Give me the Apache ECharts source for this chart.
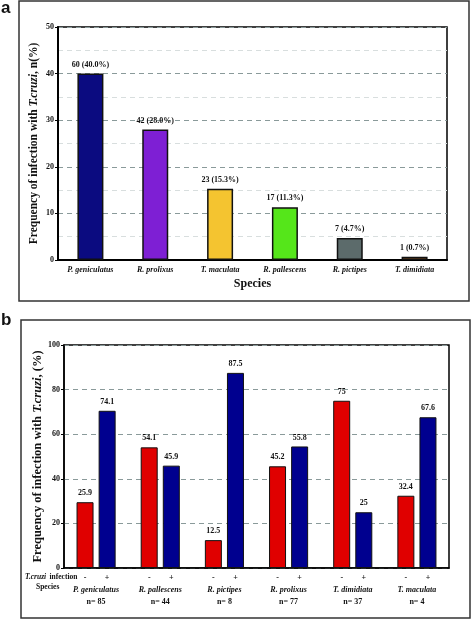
<!DOCTYPE html>
<html>
<head>
<meta charset="utf-8">
<script src="https://cdn.jsdelivr.net/npm/echarts@6/dist/echarts.min.js"></script>
<style>html,body{margin:0;padding:0;background:#fff}#c{width:472px;height:621px}</style>
</head>
<body>
<div id="c"></div>
<script>
// Panel a
const speciesA = ['P. geniculatus', 'R. prolixus', 'T. maculata', 'R. pallescens', 'R. pictipes', 'T. dimidiata'];
const valuesA = [40.0, 28.0, 15.3, 11.3, 4.7, 0.7];
const labelsA = ['60 (40.0%)', '42 (28.0%)', '23 (15.3%)', '17 (11.3%)', '7 (4.7%)', '1 (0.7%)'];
const colorsA = ['#0b0b80', '#7e1fd4', '#f4c430', '#55e61a', '#5c6b6b', '#d2782a'];
const ticksA = [0, 10, 20, 30, 40, 50];

// Panel b
const speciesB = ['P. geniculatus', 'R. pallescens', 'R. pictipes', 'R. prolixus', 'T. dimidiata', 'T. maculata'];
const nB = [85, 44, 8, 77, 37, 4];
const negB = [29.5, 54.1, 12.5, 45.6, 75.0, 32.4];
const posB = [70.5, 45.9, 87.5, 54.5, 25.0, 67.6];
const negLabelsB = ['25.9', '54.1', '12.5', '45.2', '75', '32.4'];
const posLabelsB = ['74.1', '45.9', '87.5', '55.8', '25', '67.6'];
const ticksB = [0, 20, 40, 60, 80, 100];

const SERIF = '"Liberation Serif", "DejaVu Serif", serif';
const chart = echarts.init(document.getElementById('c'), null, {renderer: 'canvas'});

const option = {
  animation: false,
  backgroundColor: '#fff',
  textStyle: {fontFamily: SERIF},
  grid: [
    {left: 58, right: 25, top: 27, height: 233, show: true, borderColor: '#000', borderWidth: 1.5, backgroundColor: 'transparent'},
    {left: 64, right: 23, top: 345, height: 223, show: true, borderColor: '#000', borderWidth: 1.5, backgroundColor: 'transparent'}
  ],
  xAxis: [
    {
      type: 'category', gridIndex: 0, data: speciesA,
      axisLine: {lineStyle: {color: '#000', width: 2}},
      axisTick: {alignWithLabel: true, length: 3, lineStyle: {color: '#000'}},
      axisLabel: {fontFamily: SERIF, fontSize: 8, fontWeight: 'bold', fontStyle: 'italic', color: '#111', margin: 6},
      name: 'Species', nameLocation: 'middle', nameGap: 18, nameMoveOverlap: false,
      nameTextStyle: {fontFamily: SERIF, fontSize: 12, fontWeight: 'bold', color: '#111'}
    },
    {
      type: 'category', gridIndex: 1, data: speciesB,
      axisLine: {lineStyle: {color: '#000', width: 1.5}},
      axisTick: {show: false},
      axisLabel: {
        fontFamily: SERIF, color: '#111', margin: 4, interval: 0,
        formatter: function (v, i) {
          return '{m|-}{p|+}\n{s|' + v + '}\n{n|n= ' + nB[i] + '}';
        },
        rich: {
          m: {width: 22, align: 'center', fontFamily: SERIF, fontSize: 8, fontWeight: 'bold', color: '#111', lineHeight: 12},
          p: {width: 22, align: 'center', fontFamily: SERIF, fontSize: 8, fontWeight: 'bold', color: '#111', lineHeight: 12},
          s: {fontFamily: SERIF, fontSize: 8, fontWeight: 'bold', fontStyle: 'italic', color: '#111', lineHeight: 12},
          n: {fontFamily: SERIF, fontSize: 8, fontWeight: 'bold', color: '#111', lineHeight: 11}
        }
      }
    }
  ],
  yAxis: [
    {
      type: 'value', gridIndex: 0, min: ticksA[0], max: ticksA[ticksA.length - 1], interval: 10,
      axisLine: {show: true, lineStyle: {color: '#000', width: 2}},
      axisTick: {show: true, length: 3, lineStyle: {color: '#000'}},
      axisLabel: {fontFamily: SERIF, fontSize: 8, fontWeight: 'bold', color: '#111', margin: 4},
      splitLine: {show: true, lineStyle: {color: '#8a9a9a', type: [5, 4], width: 1}},
      minorTick: {show: false, splitNumber: 2},
      minorSplitLine: {show: true, lineStyle: {color: '#d8dede', type: [5, 4], width: 1}},
      name: 'Frequency of infection with {i|T.cruzi}, n(%)', nameLocation: 'middle', nameGap: 18, nameMoveOverlap: false,
      nameTextStyle: {fontFamily: SERIF, fontSize: 11.5, fontWeight: 'bold', color: '#111',
        rich: {i: {fontFamily: SERIF, fontSize: 11.5, fontWeight: 'bold', fontStyle: 'italic', color: '#111'}}}
    },
    {
      type: 'value', gridIndex: 1, min: ticksB[0], max: ticksB[ticksB.length - 1], interval: 20,
      axisLine: {show: true, lineStyle: {color: '#000', width: 1.5}},
      axisTick: {show: true, length: 3, lineStyle: {color: '#000'}},
      axisLabel: {fontFamily: SERIF, fontSize: 8, fontWeight: 'bold', color: '#111', margin: 4},
      splitLine: {show: true, lineStyle: {color: '#8a9a9a', type: [5, 4], width: 1}},
      name: 'Frequency of infection with {i|T.cruzi}, (%)', nameLocation: 'middle', nameGap: 20, nameMoveOverlap: false,
      nameTextStyle: {fontFamily: SERIF, fontSize: 12.5, fontWeight: 'bold', color: '#111',
        rich: {i: {fontFamily: SERIF, fontSize: 12.5, fontWeight: 'bold', fontStyle: 'italic', color: '#111'}}}
    }
  ],
  series: [
    {
      type: 'bar', xAxisIndex: 0, yAxisIndex: 0, barWidth: 26,
      data: valuesA.map((v, i) => ({value: v, itemStyle: {color: colorsA[i]}})),
      itemStyle: {borderColor: '#111', borderWidth: 1.5},
      label: {show: true, position: 'top', distance: 5, formatter: p => labelsA[p.dataIndex],
        fontFamily: SERIF, fontSize: 8, fontWeight: 'bold', color: '#111'}
    },
    {
      type: 'bar', xAxisIndex: 1, yAxisIndex: 1, barWidth: 17, barGap: '30%',
      data: negB,
      itemStyle: {color: '#e00000', borderColor: '#111', borderWidth: 1},
      label: {show: true, position: 'top', distance: 5, formatter: p => negLabelsB[p.dataIndex],
        fontFamily: SERIF, fontSize: 8, fontWeight: 'bold', color: '#111'}
    },
    {
      type: 'bar', xAxisIndex: 1, yAxisIndex: 1, barWidth: 17, barGap: '30%',
      data: posB,
      itemStyle: {color: '#00008f', borderColor: '#111', borderWidth: 1},
      label: {show: true, position: 'top', distance: 5, formatter: p => posLabelsB[p.dataIndex],
        fontFamily: SERIF, fontSize: 8, fontWeight: 'bold', color: '#111'}
    }
  ],
  graphic: [
    {type: 'rect', shape: {x: 19, y: 1, width: 450, height: 300}, style: {fill: 'none', stroke: '#333', lineWidth: 1.5}, silent: true},
    {type: 'rect', shape: {x: 21, y: 320, width: 449, height: 298}, style: {fill: 'none', stroke: '#333', lineWidth: 1.5}, silent: true},
    {type: 'text', left: 1, top: 0, style: {text: 'a', font: 'bold 17px "Liberation Sans", Arial, sans-serif', fill: '#111'}},
    {type: 'text', left: 1, top: 312, style: {text: 'b', font: 'bold 17px "Liberation Sans", Arial, sans-serif', fill: '#111'}},
    {type: 'text', left: 25, top: 571, style: {
      text: '{i|T.cruzi} {r|infection}',
      rich: {i: {fontFamily: SERIF, fontSize: 7.5, fontWeight: 'bold', fontStyle: 'italic', fill: '#111'},
             r: {fontFamily: SERIF, fontSize: 7.5, fontWeight: 'bold', fill: '#111'}}}},
    {type: 'text', left: 36, top: 583, style: {text: 'Species', font: 'bold 7.5px "Liberation Serif", serif', fill: '#111'}}
  ]
};
chart.setOption(option);
</script>
</body>
</html>
